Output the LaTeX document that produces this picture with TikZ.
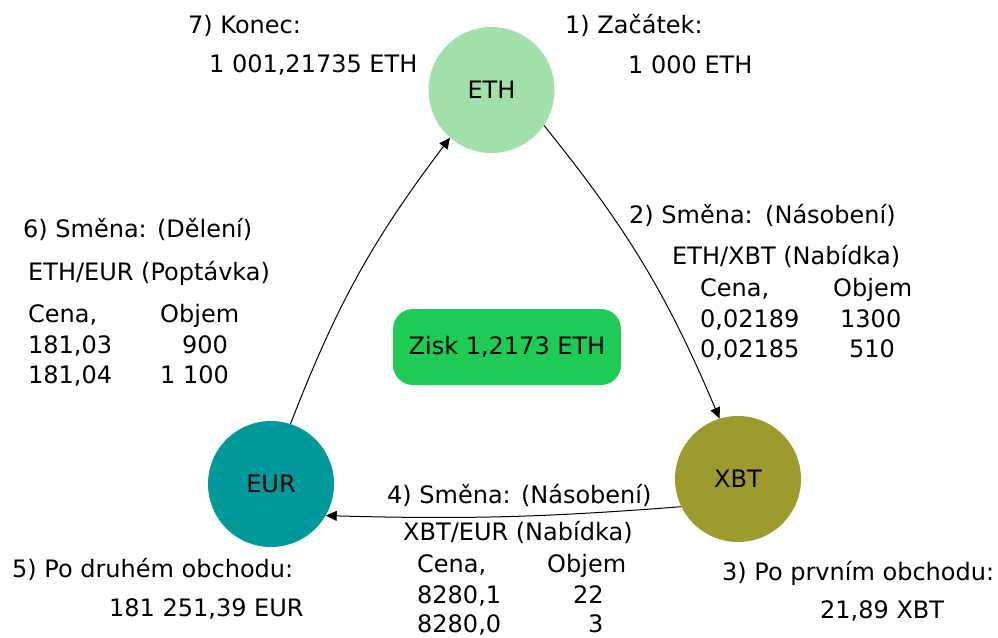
\documentclass[tikz,border=0pt]{standalone}
\usepackage{fontspec}
\setmainfont{DejaVu Sans}
\usetikzlibrary{arrows.meta}
\definecolor{ethfill}{HTML}{A3DFAA}
\definecolor{xbtfill}{HTML}{9E9B2E}
\definecolor{eurfill}{HTML}{009999}
\definecolor{profitfill}{HTML}{1ECC55}
\tikzset{
  coin/.style={circle, minimum size=126pt, inner sep=0pt, font=\fontsize{24}{28}\selectfont},
  lbl/.style={anchor=base west, inner sep=0pt, font=\fontsize{24}{28}\selectfont},
  flow/.style={-{Triangle[length=11pt,width=10pt]}, line width=1pt, black}
}
\begin{document}
\begin{tikzpicture}[x=1pt,y=-1pt]
  \useasboundingbox (0,0) rectangle (998,637);

  % currencies
  \node[coin, fill=ethfill] (eth) at (491.5,90) {ETH};
  \node[coin, fill=xbtfill] (xbt) at (738,479) {XBT};
  \node[coin, fill=eurfill] (eur) at (271,484) {EUR};

  % profit
  \node[fill=profitfill, rounded corners=20pt, minimum width=228pt, minimum height=76pt,
        font=\fontsize{24}{28}\selectfont] (zisk) at (507,347) {Zisk 1,2173 ETH};

  % exchanges
  \draw[flow] (eth.-34) to[bend left=8] (xbt.107);
  \draw[flow] (xbt.206) to[bend left=3] (eur.-30);
  \draw[flow] (eur.72) to[bend left=8] (eth.229);

  % start / end
  \node[lbl] (t7) at (188,33) {7) Konec:};
  \node[lbl] (t7v) at (209,72) {1 001,21735 ETH};
  \node[lbl] (t1) at (565,33) {1) Začátek:};
  \node[lbl] (t1v) at (628,73) {1 000 ETH};

  % step 2
  \node[lbl] (t2a) at (629,223) {2) Směna:};
  \node[lbl] (t2b) at (765,223) {(Násobení)};
  \node[lbl] (t2p) at (672,264) {ETH/XBT (Nabídka)};
  \node[lbl] (t2c) at (700,296) {Cena,};
  \node[lbl] (t2o) at (833,296) {Objem};
  \node[lbl] (t2r1) at (700,327) {0,02189};
  \node[lbl] (t2v1) at (840,327) {1300};
  \node[lbl] (t2r2) at (700,357) {0,02185};
  \node[lbl] (t2v2) at (849,357) {510};

  % step 3
  \node[lbl] (t3) at (722,580) {3) Po prvním obchodu:};
  \node[lbl] (t3v) at (820,618) {21,89 XBT};

  % step 4
  \node[lbl] (t4) at (387,503) {4) Směna: (Násobení)};
  \node[lbl] (t4p) at (403,540) {XBT/EUR (Nabídka)};
  \node[lbl] (t4c) at (417,572) {Cena,};
  \node[lbl] (t4o) at (547,572) {Objem};
  \node[lbl] (t4r1) at (417,603) {8280,1};
  \node[lbl] (t4v1) at (573,603) {22};
  \node[lbl] (t4r2) at (417,632) {8280,0};
  \node[lbl] (t4v2) at (588,632) {3};

  % step 5
  \node[lbl] (t5) at (12,577) {5) Po druhém obchodu:};
  \node[lbl] (t5v) at (109,616) {181 251,39 EUR};

  % step 6
  \node[lbl] (t6) at (23,237) {6) Směna: (Dělení)};
  \node[lbl] (t6p) at (28,280) {ETH/EUR (Poptávka)};
  \node[lbl] (t6c) at (28,322) {Cena,};
  \node[lbl] (t6o) at (160,322) {Objem};
  \node[lbl] (t6r1) at (28,353) {181,03};
  \node[lbl] (t6v1) at (182,353) {900};
  \node[lbl] (t6r2) at (28,383) {181,04};
  \node[lbl] (t6v2) at (160,383) {1 100};
\end{tikzpicture}
\end{document}
